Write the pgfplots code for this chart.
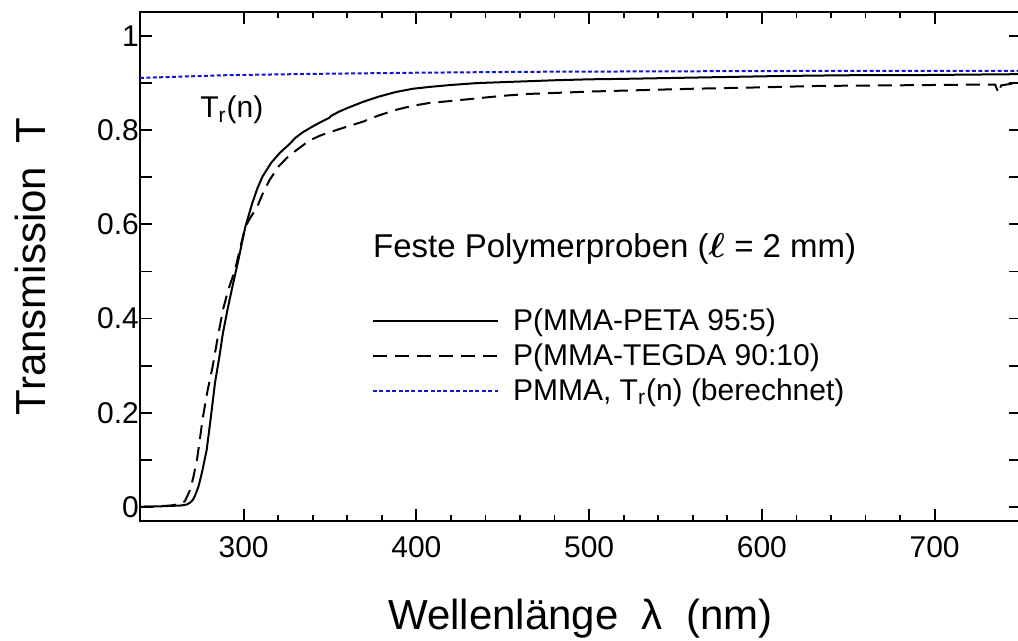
\documentclass[border=0pt]{standalone}
\usepackage{amsmath}
\usepackage{bm}
\usepackage{fontspec}
\setmainfont{Liberation Sans}
\usepackage{pgfplots}
\pgfplotsset{compat=1.18}
\definecolor{trblue}{RGB}{20,20,210}

% P(MMA-PETA 95:5)
\pgfplotstableread{
x y
240 0.000
250 0.001
258 0.002
264 0.003
267 0.005
269 0.009
270.6 0.015
272 0.025
274 0.045
276 0.075
278.6 0.121
281 0.19
283.4 0.263
286 0.32
288 0.369
291 0.425
294 0.476
297 0.525
300 0.578
301 0.595
305 0.645
308 0.677
311 0.702
316 0.731
321 0.752
326.7 0.771
330 0.784
334 0.795
340 0.808
345 0.818
349.5 0.826
350.5 0.830
355 0.839
360 0.847
369 0.860
378 0.871
388 0.881
398 0.888
408 0.892
420 0.896
435 0.900
450 0.902
465 0.904
480 0.906
500 0.908
520 0.909
550 0.911
580 0.913
610 0.915
633 0.916
660 0.917
690 0.917
720 0.918
750 0.919
}\peta

% P(MMA-TEGDA 90:10)
\pgfplotstableread{
x y
240 0.000
250 0.001
258 0.003
263 0.006
266 0.012
269 0.036
271 0.065
273 0.10
276.4 0.19
279 0.245
282 0.297
285 0.36
288 0.418
291 0.46
295 0.503
298 0.55
301 0.595
304 0.615
307.6 0.635
311 0.665
315 0.694
320 0.722
325 0.741
330 0.756
334 0.767
338 0.778
344 0.788
349 0.795
351 0.797
356 0.803
362 0.810
369 0.818
378 0.831
388 0.843
398 0.852
408 0.858
420 0.862
436 0.868
450 0.873
465 0.877
480 0.879
500 0.882
530 0.885
560 0.888
600 0.891
633 0.894
670 0.895
700 0.896
730 0.897
735 0.897
737 0.879
738.5 0.895
745 0.899
750 0.900
}\tegda

% PMMA, T_r(n) (berechnet)
\pgfplotstableread{
x y
240 0.911
292 0.917
350 0.920
400 0.922
465 0.924
550 0.925
650 0.926
750 0.926
}\pmma

\begin{document}
\begin{tikzpicture}
\useasboundingbox (-70pt,-60pt) rectangle (439pt,260.5pt);
\begin{axis}[
    at={(0pt,0pt)}, anchor=south west,
    scale only axis,
    width=440.5pt, height=254.5pt,
    xmin=240, xmax=750,
    ymin=-0.03, ymax=1.051,
    xtick={300,400,...,700},
    minor x tick num=4,
    ytick={0,0.2,0.4,0.6,0.8,1},
    yticklabels={0,0.2,0.4,0.6,0.8,1},
    extra y ticks={0.1,0.3,0.5,0.7,0.9},
    extra y tick labels={},
    tick align=inside,
    major tick length=6pt,
    minor tick length=3pt,
    axis line style={line width=1pt},
    every tick/.style={black, line width=0.9pt},
    tick label style={font=\fontsize{15}{18}\selectfont},
    /pgf/number format/assume math mode=true,
    x tick label style={yshift=-4pt},
    y tick label style={xshift=3pt},
    xlabel={Wellenlänge\ \ λ\ \ (nm)},
    ylabel={Transmission\ \ T},
    every axis x label/.style={at={(axis description cs:0.5,-0.2141)}, anchor=base, font=\fontsize{21}{25}\selectfont},
    every axis y label/.style={at={(axis description cs:-0.1078,0.5)}, rotate=90, anchor=base, font=\fontsize{21}{25}\selectfont},
    legend style={draw=none, fill=none, at={(axis cs:374.1,0.43)}, anchor=north west,
        font=\fontsize{15}{18}\selectfont, row sep=1pt, inner sep=0pt,
        nodes={inner sep=2pt}},
    legend cell align=left,
    legend image code/.code={\draw[#1] (0pt,0pt) -- (62.5pt,0pt);},
    clip=true,
]
\addplot[black, line width=1pt, no marks] table[x=x,y=y] {\peta};
\addlegendentry{\hspace{5pt}P(MMA-PETA 95:5)}
\addplot[black, line width=1pt, no marks, dash pattern=on 7pt off 4pt] table[x=x,y=y] {\tegda};
\addlegendentry{\hspace{5pt}P(MMA-TEGDA 90:10)}
\addplot[trblue, line width=1pt, no marks, dash pattern=on 2pt off 1.2pt] table[x=x,y=y] {\pmma};
\addlegendentry{\hspace{5pt}PMMA, T\textsubscript{r}(n) (berechnet)}

\node[anchor=base west, inner sep=0pt, font=\fontsize{15}{18}\selectfont] at (axis cs:274.7,0.826) {T\textsubscript{r}(n)};
\node[anchor=base west, inner sep=0pt, font=\fontsize{16.5}{19}\selectfont] at (axis cs:374.7,0.529) {Feste Polymerproben ($\bm{\ell}$ = 2 mm)};
\end{axis}
\end{tikzpicture}
\end{document}
